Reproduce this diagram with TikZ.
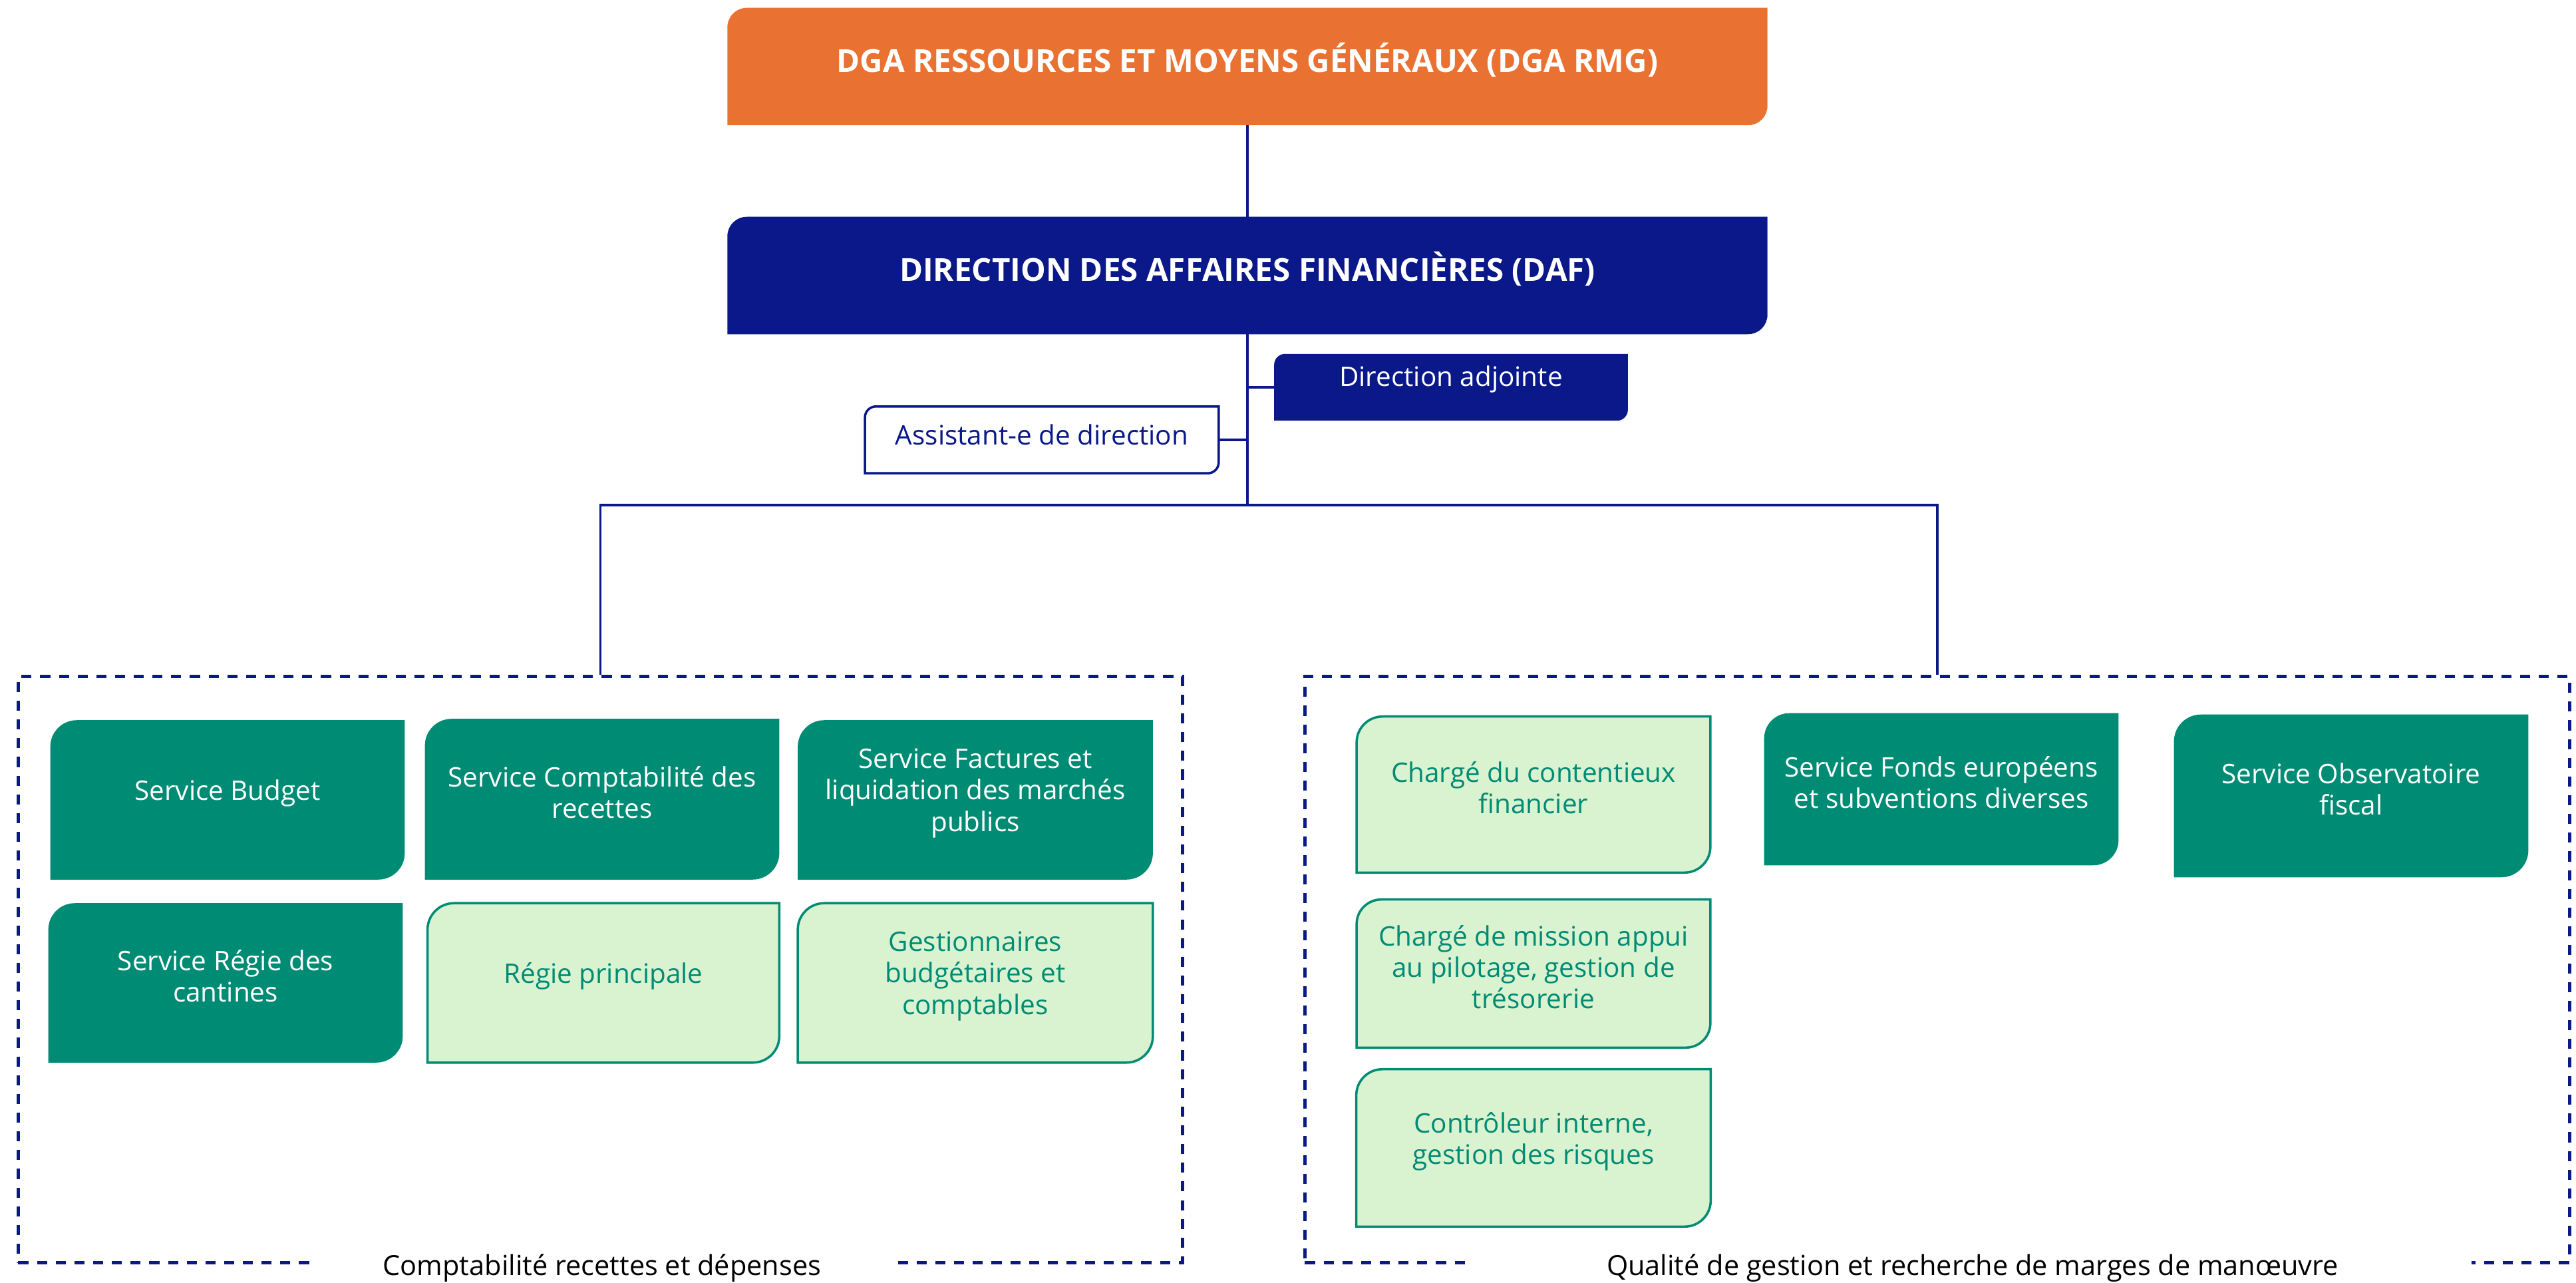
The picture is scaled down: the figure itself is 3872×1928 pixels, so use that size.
\documentclass[tikz,border=0pt]{standalone}
\usepackage{fontspec}
\setmainfont{Open Sans}
\usetikzlibrary{positioning}

\definecolor{rmgorange}{HTML}{E97132}
\definecolor{dafnavy}{HTML}{0A1889}
\definecolor{svcgreen}{HTML}{008B74}
\definecolor{svclight}{HTML}{D9F2D0}

% box with rounded top-left and bottom-right corners
% #1 look, #2 name, #3 x, #4 y, #5 width, #6 height, #7 text
\newcommand{\orgbox}[7]{%
  \node[minimum width=#5*0.1mm, minimum height=#6*0.1mm, inner sep=0pt] (#2) at (#3,#4) {};
  \pgfmathsetlengthmacro{\rc}{#6*0.1mm/6}
  \path[#1] ([yshift=-\rc]#2.north west) arc[start angle=180, end angle=90, radius=\rc]
    -- (#2.north east) -- ([yshift=\rc]#2.south east)
    arc[start angle=0, end angle=-90, radius=\rc] -- (#2.south west) -- cycle;
  \node[#1 text] (#2 text) at (#2.center) {#7};
}

\begin{document}
\begin{tikzpicture}[x=0.01cm,y=-0.01cm,
    link/.style={draw=dafnavy, line width=1pt},
    dga/.style={fill=rmgorange},
    daf/.style={fill=dafnavy},
    adj/.style={fill=dafnavy},
    assist/.style={fill=white, draw=dafnavy, line width=1pt},
    svc/.style={fill=svcgreen},
    cell/.style={fill=svclight, draw=svcgreen, line width=1pt},
    dga text/.style={text=white, font=\fontsize{13.5}{16}\selectfont\bfseries, yshift=0.1cm},
    daf text/.style={dga text},
    adj text/.style={text=white, font=\fontsize{11.5}{13.4}\selectfont, yshift=0.12cm},
    assist text/.style={text=dafnavy, font=\fontsize{11.5}{13.4}\selectfont, yshift=0.08cm},
    svc text/.style={text=white, align=center, font=\fontsize{11.5}{13.4}\selectfont, yshift=0.1cm},
    cell text/.style={svc text, text=svcgreen},
    grpframe/.style={draw=dafnavy, line width=1.3pt, dash pattern=on 4.3pt off 3.7pt, inner sep=0pt},
    grplabel/.style={fill=white, inner ysep=2pt, font=\fontsize{11.8}{13.6}\selectfont}]
  \useasboundingbox (0,0) rectangle (3872,1928);

  % groups
  \node[grpframe, minimum width=174.9mm, minimum height=88mm] (grpA) at (902.5,1457) {};
  \node[grpframe, minimum width=190mm, minimum height=88mm] (grpB) at (2912,1457) {};
  \node[grplabel, minimum width=8.8cm] (grpA label) at (905,1906) {Comptabilité recettes et dépenses};
  \node[grplabel, minimum width=15cm] (grpB label) at (2965,1906) {Qualité de gestion et recherche de marges de manœuvre};

  % direction
  \orgbox{dga}{dga}{1875}{100}{1561}{175}{DGA RESSOURCES ET MOYENS GÉNÉRAUX (DGA RMG)}
  \orgbox{daf}{daf}{1875}{414}{1561}{175}{DIRECTION DES AFFAIRES FINANCIÈRES (DAF)}
  \orgbox{adj}{adj}{2181}{582}{530}{99}{Direction adjointe}
  \orgbox{assist}{assist}{1566}{661}{530}{99}{Assistant-e de direction}

  % services
  \orgbox{svc}{budget}{342}{1202}{531}{238}{Service Budget}
  \orgbox{svc}{recettes}{905}{1201}{531}{240}{Service Comptabilité des\\recettes}
  \orgbox{svc}{factures}{1466}{1202}{532}{238}{Service Factures et\\liquidation des marchés\\publics}
  \orgbox{svc}{cantines}{339}{1477}{531}{238}{Service Régie des\\cantines}
  \orgbox{cell}{regiep}{907}{1477}{527}{238}{Régie principale}
  \orgbox{cell}{gest}{1466}{1477}{532}{238}{Gestionnaires\\budgétaires et\\comptables}
  \orgbox{cell}{conten}{2305}{1194}{530}{233}{Chargé du contentieux\\financier}
  \orgbox{cell}{mission}{2305}{1463}{530}{221}{Chargé de mission appui\\au pilotage, gestion de\\trésorerie}
  \orgbox{cell}{controle}{2305}{1725}{531}{235}{Contrôleur interne,\\gestion des risques}
  \orgbox{svc}{fonds}{2918}{1186}{531}{227}{Service Fonds européens\\et subventions diverses}
  \orgbox{svc}{observ}{3534}{1196}{531}{243}{Service Observatoire\\fiscal}

  % links
  \coordinate (hub) at (1875,759);
  \draw[link] (dga.south) -- (daf.north);
  \draw[link] (daf.south) -- (hub);
  \draw[link] (adj.west) -- (adj.west -| hub);
  \draw[link] (assist.east) -- (assist.east -| hub);
  \draw[link] (grpA.north) |- (hub) -| (grpB.north);
\end{tikzpicture}
\end{document}
